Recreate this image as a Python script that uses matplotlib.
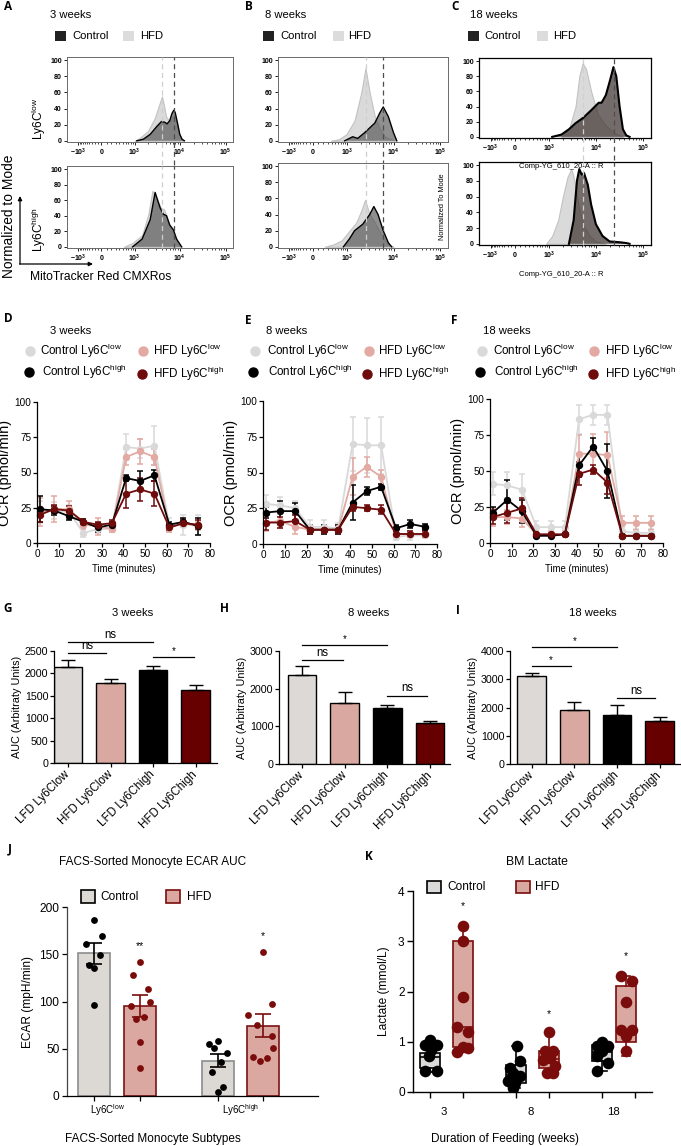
import numpy as np
import matplotlib
matplotlib.use("Agg")
import matplotlib.pyplot as plt
from matplotlib import font_manager
from matplotlib.patches import Rectangle

# ---------------- data ----------------
# flow histograms (A-C): MitoTracker intensity vs % of mode
A_LOW_CTRL_X = [1120, 1580, 2240, 3160, 3980, 4680, 5250, 6030, 6760, 7410, 7940, 8910, 10000, 11200, 12600]
A_LOW_CTRL_Y = [0, 2, 8, 18, 24, 23, 21, 25, 34, 38, 35, 22, 8, 2, 0]
A_LOW_HFD_X = [1000, 1260, 2000, 2820, 3550, 4070, 4470, 5010, 6030, 7080, 7590, 8320, 9330, 10700, 12000]
A_LOW_HFD_Y = [0, 3, 12, 28, 45, 55, 45, 30, 24, 30, 33, 25, 10, 2, 0]
A_HIGH_CTRL_X = [890, 1480, 2240, 2880, 3720, 4370, 5130, 6030, 7240, 8510, 10960]
A_HIGH_CTRL_Y = [0, 10, 35, 70, 50, 42, 40, 28, 22, 10, 0]
A_HIGH_HFD_X = [540, 890, 1480, 2040, 2510, 3090, 3890, 4570, 5620, 7240, 9120, 10960]
A_HIGH_HFD_Y = [0, 5, 15, 42, 72, 62, 50, 48, 32, 15, 3, 0]
A_MED = [4100, 7400]

B_LOW_CTRL_X = [870, 1320, 1700, 2400, 3980, 5130, 6030, 7760, 10000, 11750]
B_LOW_CTRL_Y = [0, 5, 3, 10, 22, 35, 42, 30, 10, 0]
B_LOW_HFD_X = [380, 630, 950, 1450, 2040, 2510, 3090, 3980, 5130, 6610, 8510, 10960]
B_LOW_HFD_Y = [0, 2, 8, 25, 60, 90, 60, 30, 15, 5, 2, 0]
B_HIGH_CTRL_X = [810, 1120, 1450, 2190, 3090, 3800, 4680, 6030, 7760, 9120]
B_HIGH_CTRL_Y = [0, 10, 20, 28, 40, 50, 40, 20, 5, 0]
B_HIGH_HFD_X = [230, 450, 740, 1120, 1580, 2040, 2450, 3090, 3980, 5500, 7760, 10000]
B_HIGH_HFD_Y = [0, 3, 8, 20, 30, 45, 58, 40, 30, 15, 3, 0]
B_MED = [2520, 5940]

C_LOW_CTRL_X = [1170, 1860, 2690, 3720, 5370, 7940, 11480, 13180, 16220, 19950, 23440, 26920, 31620, 37150, 43650, 51290]
C_LOW_CTRL_Y = [0, 3, 10, 18, 25, 35, 45, 45, 55, 75, 92, 80, 40, 10, 2, 0]
C_LOW_HFD_X = [1860, 2690, 3720, 4470, 5250, 6170, 7940, 10960, 16220, 24550, 37150]
C_LOW_HFD_Y = [0, 10, 40, 80, 97, 90, 60, 30, 15, 5, 0]
C_HIGH_CTRL_X = [2690, 3390, 3980, 4470, 5010, 5620, 6760, 7940, 10000, 13800, 19500, 31620, 43650, 51290]
C_HIGH_CTRL_Y = [0, 30, 80, 95, 88, 90, 75, 50, 25, 10, 3, 2, 1, 0]
C_HIGH_HFD_X = [850, 1170, 1580, 2000, 2510, 3020, 3390, 4270, 5370, 7410, 10000, 16220]
C_HIGH_HFD_Y = [0, 10, 30, 60, 85, 95, 85, 50, 25, 10, 3, 0]
C_MED = [5370, 23800]

FLOW_TICKS = [-1000, 0, 1000, 10000, 100000]
FLOW_TICKLABELS = [r'$\mathbf{-10^3}$', r'$\mathbf{0}$', r'$\mathbf{10^3}$', r'$\mathbf{10^4}$', r'$\mathbf{10^5}$']

# OCR (D-F): pmol/min at each measurement time
OCR_T = [1.3, 8, 14.8, 21.5, 28, 34.6, 41.2, 47.7, 54.3, 61.2, 67.7, 74.6]
D_CL = [22, 23, 22, 7, 10, 10, 68, 67, 69, 13, 13, 13]
D_CL_E = [8, 6, 5, 3, 3, 2, 9, 7, 14, 5, 7, 7]
D_HL = [22, 24, 24, 13, 12, 10, 61, 65, 61, 11, 14, 12]
D_HL_E = [10, 9, 6, 3, 6, 2, 6, 9, 6, 3, 3, 3]
D_CH = [24, 23, 19, 15, 11, 13, 46, 44, 48, 13, 15, 12]
D_CH_E = [9, 3, 3, 2, 3, 2, 2, 7, 4, 2, 3, 6]
D_HH = [20, 24, 23, 15, 13, 14, 35, 38, 35, 11, 14, 13]
D_HH_E = [5, 3, 3, 2, 2, 2, 10, 8, 9, 2, 2, 3]

E_CL = [28, 27, 25, 12, 12, 11, 70, 69, 69, 5, 6, 6]
E_CL_E = [6, 6, 5, 5, 5, 4, 19, 19, 20, 2, 3, 2]
E_HL = [15, 16, 12, 10, 10, 10, 47, 54, 47, 7, 7, 7]
E_HL_E = [6, 5, 5, 3, 3, 3, 13, 7, 5, 2, 2, 2]
E_CH = [22, 23, 23, 10, 10, 10, 29, 37, 40, 11, 14, 12]
E_CH_E = [4, 7, 6, 3, 3, 3, 12, 3, 2, 2, 3, 2]
E_HH = [15, 15, 16, 10, 10, 10, 26, 25, 24, 7, 7, 7]
E_HH_E = [5, 4, 4, 3, 2, 2, 3, 2, 3, 2, 2, 2]

F_CL = [41, 40, 37, 11, 11, 11, 86, 89, 89, 8, 7, 7]
F_CL_E = [8, 9, 11, 4, 4, 4, 10, 7, 7, 3, 3, 3]
F_HL = [18, 18, 17, 6, 6, 6, 62, 62, 61, 14, 14, 14]
F_HL_E = [6, 5, 6, 2, 2, 2, 13, 14, 16, 5, 5, 5]
F_CH = [21, 30, 22, 5, 5, 6, 54, 67, 50, 5, 5, 5]
F_CH_E = [4, 14, 8, 1, 1, 1, 8, 6, 19, 1, 1, 1]
F_HH = [18, 21, 24, 6, 6, 6, 48, 51, 42, 5, 5, 5]
F_HH_E = [5, 7, 7, 1, 1, 1, 8, 3, 8, 1, 1, 1]

# AUC (G-I)
AUC_LABELS = ['LFD Ly6Clow', 'HFD Ly6Clow', 'LFD Ly6Chigh', 'HFD Ly6Chigh']
G_AUC = [2150, 1790, 2077, 1632]
G_SEM = [150, 80, 82, 104]
G_SIG = [(0, 2, 2708, 'ns'), (0, 0.9, 2448, 'ns'), (2, 2.95, 2359, '*')]
H_AUC = [2374, 1624, 1500, 1077]
H_SEM = [220, 300, 62, 53]
H_SIG = [(0, 2, 3160, '*'), (0, 0.95, 2762, 'ns'), (2, 2.93, 1818, 'ns')]
I_AUC = [3118, 1918, 1729, 1529]
I_SEM = [117, 282, 353, 118]
I_SIG = [(0, 2, 4141, '*'), (0, 0.91, 3459, '*'), (2, 2.9, 2329, 'ns')]

# ECAR (J)
J_MEAN = [151, 95, 37.5, 74.6]
J_SEM = [11, 11.5, 7, 12.4]
J_PTS = [[186, 169, 161, 149, 139, 135, 96.5],
         [142, 128, 113, 100, 95, 82, 84, 57, 30],
         [55, 58, 51, 46, 36, 25, 10, 4.6],
         [152, 97, 85.5, 75, 63, 50.5, 41.7, 37.5, 40.6]]
J_JIT = [[0, 0.17, -0.17, 0.12, -0.12, 0, 0],
         [0, -0.16, 0.18, 0.22, -0.2, -0.09, 0.09, 0, 0],
         [-0.2, 0, -0.09, 0.21, 0.07, -0.13, 0.12, 0],
         [0, 0.18, -0.33, -0.14, 0.18, 0.22, -0.22, -0.07, 0.07]]
J_STARS = ['', '**', '', '*']
J_STAR_Y = [0, 153, 0, 164]

# BM lactate (K): (whislo, q1, med, q3, whishi) and points
K_BOX = [(0.4, 0.48, 0.7, 0.78, 1.0), (0.8, 0.9, 1.3, 3.0, 3.3),
         (0.08, 0.18, 0.33, 0.54, 0.91), (0.38, 0.48, 0.65, 0.81, 1.2),
         (0.41, 0.61, 0.8, 0.93, 1.0), (0.72, 1.0, 1.2, 2.11, 2.3)]
K_PTS = [[1.04, 0.94, 0.94, 0.84, 0.71, 0.41, 0.41],
         [3.3, 3.0, 1.9, 1.3, 1.2, 0.8, 0.88, 0.9],
         [0.91, 0.61, 0.48, 0.38, 0.31, 0.21, 0.18, 0.08],
         [1.2, 0.81, 0.81, 0.68, 0.64, 0.51, 0.38, 0.38],
         [1.0, 0.91, 0.91, 0.81, 0.71, 0.58, 0.41],
         [2.3, 2.2, 1.8, 1.24, 1.24, 1.12, 0.81]]
K_JIT = [[0, -0.15, 0.2, 0.02, -0.02, -0.15, 0.2],
         [0, 0, 0, -0.18, 0.15, -0.18, 0.15, 0],
         [0.02, 0.12, -0.18, -0.08, 0.12, -0.23, -0.03, -0.08],
         [0, -0.12, 0.13, 0.03, -0.17, 0.18, -0.07, 0.13],
         [0, -0.17, 0.18, 0, -0.17, 0.18, -0.17],
         [-0.14, 0.18, 0, -0.14, 0.18, 0, 0]]
K_STARS = ['', '*', '', '*', '', '*']
K_STAR_Y = [0, 3.6, 0, 1.45, 0, 2.6]
K_WEEKS = ['3', '8', '18']

# ---------------- styling ----------------
names = {f.name for f in font_manager.fontManager.ttflist}
HAS_NARROW = 'Liberation Sans Narrow' in names
NARROW = 'Liberation Sans Narrow' if HAS_NARROW else 'Liberation Sans'
plt.rcParams['font.family'] = ['Liberation Sans', 'DejaVu Sans']
plt.rcParams['mathtext.fontset'] = 'custom'
plt.rcParams['mathtext.rm'] = 'Liberation Sans'
plt.rcParams['mathtext.it'] = 'Liberation Sans:italic'
plt.rcParams['mathtext.bf'] = 'Liberation Sans:bold'

C_CL, C_HL, C_CH, C_HH = '#d9d9d9', '#e2aaa2', 'black', '#6e0b0b'
AUC_COLORS = ['#dcd9d6', '#d9a9a1', 'black', '#660000']
RED = '#7a0c0c'

W, H = 681, 1146
fig = plt.figure(figsize=(W / 100, H / 100), dpi=100)


def ax_at(l, t, r, b):
    return fig.add_axes([l / W, 1 - b / H, (r - l) / W, (b - t) / H])


# flow cytometry biexponential-like axis
C0, NEG = 390.0, 0.7


def fwd(x):
    x = np.asarray(x, float)
    y = np.arcsinh(x / C0) / np.log(10)
    return np.where(x < 0, y * NEG, y)


def inv(y):
    y = np.asarray(y, float)
    y = np.where(y < 0, y / NEG, y)
    return C0 * np.sinh(y * np.log(10))


minor_flow = ([-v for v in range(100, 1000, 100)] + list(range(100, 1000, 100)) +
              list(range(2000, 10000, 1000)) + list(range(20000, 100000, 10000)))


def flow(l, t, r, b, hx, hy, cx, cy, med, dark, alpha, heavy, ext):
    ax = ax_at(l, t, r, b)
    ax.set_xscale('function', functions=(fwd, inv))
    ax.fill_between(hx, hy, 0, facecolor='#dadada', edgecolor='#c2c2c2', lw=0.8, zorder=1)
    ax.fill_between(cx, cy, 0, facecolor=dark, alpha=alpha, edgecolor='none', zorder=2)
    ax.plot(cx, cy, color='black', lw=1.5 if heavy else 1.0, zorder=3)
    ax.plot([med[0]] * 2, [ext, 104], color='#cfcfcf', ls=(0, (4, 3)), lw=0.9, zorder=4, clip_on=False)
    ax.plot([med[1]] * 2, [ext, 104], color='#4d4d4d', ls=(0, (4, 3)), lw=0.9, zorder=4, clip_on=False)
    ax.set_xlim(-2300, 145000)
    ax.set_ylim(-1.5, 104)
    ax.set_xticks(FLOW_TICKS)
    ax.set_xticklabels(FLOW_TICKLABELS)
    ax.set_xticks(minor_flow, minor=True)
    ax.set_yticks(range(0, 101, 20))
    ax.set_yticklabels([str(v) for v in range(0, 101, 20)], fontweight='bold')
    ax.tick_params(labelsize=5, length=2.2, width=0.6, pad=1.5)
    ax.tick_params(which='minor', length=1.3, width=0.5)
    ec = 'black' if heavy else '#6a6a6a'
    for s in ax.spines.values():
        s.set_color(ec)
        s.set_linewidth(0.9 if heavy else 0.7)
    return ax


GREY_DARK, GREY_A = '#4a4a4a', 0.62
BROWN_DARK, BROWN_A = '#3e3430', 0.72
flow(67, 57, 233, 142, A_LOW_HFD_X, A_LOW_HFD_Y, A_LOW_CTRL_X, A_LOW_CTRL_Y, A_MED, GREY_DARK, GREY_A, False, -30)
flow(67, 166, 233, 248, A_HIGH_HFD_X, A_HIGH_HFD_Y, A_HIGH_CTRL_X, A_HIGH_CTRL_Y, A_MED, GREY_DARK, GREY_A, False, -1.5)
flow(278, 57, 448, 142, B_LOW_HFD_X, B_LOW_HFD_Y, B_LOW_CTRL_X, B_LOW_CTRL_Y, B_MED, GREY_DARK, GREY_A, False, -30)
flow(278, 163, 448, 248, B_HIGH_HFD_X, B_HIGH_HFD_Y, B_HIGH_CTRL_X, B_HIGH_CTRL_Y, B_MED, GREY_DARK, GREY_A, False, -1.5)
flow(479, 58, 651, 138, C_LOW_HFD_X, C_LOW_HFD_Y, C_LOW_CTRL_X, C_LOW_CTRL_Y, C_MED, BROWN_DARK, BROWN_A, True, -30)
flow(479, 162, 651, 245, C_HIGH_HFD_X, C_HIGH_HFD_Y, C_HIGH_CTRL_X, C_HIGH_CTRL_Y, C_MED, BROWN_DARK, BROWN_A, True, -1.5)

OCR_TICK_FS = 8.6 if HAS_NARROW else 7.2
OCR_XLAB_FS = 8.2 if HAS_NARROW else 6.9


def ocr(l, t, r, b, series):
    ax = ax_at(l, t, r, b)
    for vals, errs, col in series:
        ax.errorbar(OCR_T, vals, yerr=errs, color=col, ecolor=col, marker='o', ms=4.3, lw=1.3,
                    elinewidth=1.1, capsize=2.5, capthick=1.1, clip_on=False)
    ax.set_xlim(0, 80)
    ax.set_ylim(0, 100)
    ax.set_xticks(range(0, 81, 10))
    ax.set_yticks([0, 25, 50, 75, 100])
    for s in ['top', 'right']:
        ax.spines[s].set_visible(False)
    for s in ['left', 'bottom']:
        ax.spines[s].set_linewidth(0.9)
    ax.tick_params(length=3, width=0.9, labelsize=OCR_TICK_FS, pad=1)
    for lab in ax.get_xticklabels() + ax.get_yticklabels():
        lab.set_family(NARROW)
    ax.set_ylabel('OCR (pmol/min)', fontsize=10.5, labelpad=2)
    ax.set_xlabel('Time (minutes)', fontsize=OCR_XLAB_FS, family=NARROW, labelpad=4)
    return ax


ocr(37, 402, 210, 543, [(D_CL, D_CL_E, C_CL), (D_HL, D_HL_E, C_HL), (D_CH, D_CH_E, C_CH), (D_HH, D_HH_E, C_HH)])
ocr(263, 401, 437, 544, [(E_CL, E_CL_E, C_CL), (E_HL, E_HL_E, C_HL), (E_CH, E_CH_E, C_CH), (E_HH, E_HH_E, C_HH)])
ocr(490, 399, 663, 543, [(F_CL, F_CL_E, C_CL), (F_HL, F_HL_E, C_HL), (F_CH, F_CH_E, C_CH), (F_HH, F_HH_E, C_HH)])


def auc(l, t, r, b, vals, sem, ymax, nticks, xlim, sigs):
    ax = ax_at(l, t, r, b)
    x = np.arange(len(vals))
    ax.bar(x, vals, width=0.67, color=AUC_COLORS, edgecolor='black', lw=1.0, zorder=2)
    ax.errorbar(x, vals, yerr=[np.zeros(len(vals)), sem], fmt='none', ecolor='black',
                elinewidth=1.0, capsize=5, capthick=1.0, zorder=3)
    for x1, x2, y, s in sigs:
        ax.plot([x1, x2], [y, y], color='black', lw=0.9, clip_on=False)
        ax.annotate(s, ((x1 + x2) / 2, y), xytext=(0, 0.8), textcoords='offset points',
                    ha='center', va='bottom', fontsize=8.3 if s == 'ns' else 7, annotation_clip=False)
    ax.set_xlim(*xlim)
    ax.set_ylim(0, ymax)
    ax.set_yticks(np.linspace(0, ymax, nticks))
    ax.set_xticks(x)
    ax.set_xticklabels(AUC_LABELS, rotation=45, ha='right', va='center', rotation_mode='anchor', fontsize=8.3)
    for s in ['top', 'right']:
        ax.spines[s].set_visible(False)
    for s in ['left', 'bottom']:
        ax.spines[s].set_linewidth(0.9)
    ax.tick_params(axis='y', length=3, width=0.9, labelsize=7.7, pad=1)
    ax.tick_params(axis='x', length=3, width=0.9, pad=4)
    ax.set_ylabel('AUC (Arbitraty Units)', fontsize=7.8, labelpad=2)
    return ax


auc(54, 651, 217, 763, G_AUC, G_SEM, 2500, 6, (-0.33, 3.5), G_SIG)
auc(279, 651, 450, 764, H_AUC, H_SEM, 3000, 4, (-0.54, 3.47), H_SIG)
auc(510, 651, 681, 764, I_AUC, I_SEM, 4000, 5, (-0.51, 3.5), I_SIG)

# ---- J ----
axj = ax_at(67, 907, 318, 1096)
jx = [0, 1, 2.69, 3.68]
j_face = ['#dcd8d4', '#daa8a0', '#dcd8d4', '#daa8a0']
j_edge = ['#8c8c8c', '#7a1414', '#8c8c8c', '#7a1414']
j_dot = ['black', RED, 'black', RED]
axj.bar(jx, J_MEAN, width=0.69, color=j_face, edgecolor=j_edge, lw=1.2, zorder=1)
for i in range(4):
    axj.errorbar(jx[i], J_MEAN[i], yerr=J_SEM[i], fmt='none', ecolor='black' if i % 2 == 0 else RED,
                 elinewidth=1.2, capsize=6, capthick=1.2, zorder=3)
    axj.scatter(np.array(J_JIT[i]) + jx[i], J_PTS[i], s=24, color=j_dot[i], zorder=4, lw=0)
    if J_STARS[i]:
        axj.text(jx[i], J_STAR_Y[i], J_STARS[i], ha='center', va='bottom', fontsize=7.5)
axj.set_xlim(-0.59, 4.87)
axj.set_ylim(0, 200)
axj.set_yticks(range(0, 201, 50))
axj.set_xticks(jx)
axj.set_xticklabels([])
for s in ['top', 'right']:
    axj.spines[s].set_visible(False)
axj.spines['left'].set_color('#444444')
for s in ['left', 'bottom']:
    axj.spines[s].set_linewidth(0.9)
axj.tick_params(length=3.5, width=0.9, labelsize=8.6, pad=2)
axj.set_ylabel('ECAR (mpH/min)', fontsize=8.6, labelpad=4)
for lab, xm in zip(['Ly6C$^{\\rm low}$', 'Ly6C$^{\\rm high}$'], [(jx[0] + jx[1]) / 2 - 0.2, (jx[2] + jx[3]) / 2]):
    axj.text(xm, -7, lab, ha='center', va='top', fontsize=7, clip_on=False)

# ---- K ----
axk = ax_at(413, 891, 652, 1092)
kx = [0, 1, 2.58, 3.57, 5.17, 5.87]
k_ticks = [0, 1, 2.58, 3.57, 5.17, 6.15]
stats = []
for w in K_BOX:
    stats.append(dict(whislo=w[0], q1=w[1], med=w[2], q3=w[3], whishi=w[4], fliers=[]))
bp = axk.bxp(stats, positions=kx, widths=0.6, patch_artist=True, capwidths=0.25,
             showfliers=False, manage_ticks=False)
for i, patch in enumerate(bp['boxes']):
    ctrl = i % 2 == 0
    col = 'black' if ctrl else RED
    patch.set_facecolor('#dcdad8' if ctrl else '#d9a8a0')
    patch.set_edgecolor(col)
    patch.set_linewidth(1.2)
    bp['medians'][i].set_color(col)
    bp['medians'][i].set_linewidth(1.2)
    for j in (2 * i, 2 * i + 1):
        bp['whiskers'][j].set_color(col)
        bp['whiskers'][j].set_linewidth(1.2)
        bp['caps'][j].set_color(col)
        bp['caps'][j].set_linewidth(1.2)
    axk.scatter(np.array(K_JIT[i]) + kx[i], K_PTS[i], s=70, color=col, zorder=4, lw=0)
    if K_STARS[i]:
        axk.text(kx[i], K_STAR_Y[i], K_STARS[i], ha='center', va='bottom', fontsize=7.5)
axk.set_xlim(-0.51, 6.66)
axk.set_ylim(0, 4)
axk.set_yticks(range(0, 5))
axk.set_xticks(k_ticks)
axk.set_xticklabels([])
for s in ['top', 'right']:
    axk.spines[s].set_visible(False)
for s in ['left', 'bottom']:
    axk.spines[s].set_linewidth(1.0)
axk.tick_params(length=4, width=1.0, labelsize=8.6, pad=2)
axk.set_ylabel('Lactate (mmol/L)', fontsize=8.6, labelpad=6)
for lab, xm in zip(K_WEEKS, [0.42, 3.03, 5.5]):
    axk.text(xm, -0.3, lab, ha='center', va='top', fontsize=8.2, clip_on=False)

# ---------------- overlay: titles, legends, letters ----------------
ov = fig.add_axes([0, 0, 1, 1], zorder=10)
ov.set_xlim(0, W)
ov.set_ylim(H, 0)
ov.axis('off')
ov.patch.set_visible(False)


def letter(x, y, s):
    ov.text(x, y, s, fontsize=8.5, fontweight='bold', family=['Open Sans', 'DejaVu Sans'], ha='left', va='center')


for x, y, s in [(4, 7, 'A'), (245, 7, 'B'), (451, 7, 'C'), (4, 318, 'D'), (245, 320, 'E'), (451, 320, 'F'),
                (3, 609, 'G'), (220, 609, 'H'), (456, 610, 'I'), (8, 849, 'J'), (365, 856, 'K')]:
    letter(x, y, s)

# flow titles and legends
for x0, title in [(50, '3 weeks'), (265, '8 weeks'), (470, '18 weeks')]:
    ov.text(x0, 15, title, fontsize=8.1, va='center', ha='left')
for sq1, t1, sq2, t2 in [(55, 72, 123, 140), (263, 280, 333, 348), (468, 484, 537, 553)]:
    ov.add_patch(Rectangle((sq1, 31), 11, 10, facecolor='#222222', edgecolor='none'))
    ov.text(t1, 36, 'Control', fontsize=8.1, va='center', ha='left')
    ov.add_patch(Rectangle((sq2, 31), 11, 10, facecolor='#dcdcdc', edgecolor='none'))
    ov.text(t2, 36, 'HFD', fontsize=8.1, va='center', ha='left')

ov.text(39, 119, 'Ly6C$^{\\rm low}$', fontsize=8.6, rotation=90, ha='center', va='center')
ov.text(39, 229, 'Ly6C$^{\\rm high}$', fontsize=8.6, rotation=90, ha='center', va='center')
ov.text(9, 216, 'Normalized to Mode', fontsize=9.9, rotation=90, ha='center', va='center')
ov.text(30, 277, 'MitoTracker Red CMXRos', fontsize=8.7, ha='left', va='center')
ov.annotate('', xy=(20, 196), xytext=(20, 264),
            arrowprops=dict(arrowstyle='-|>', color='black', lw=0.9, mutation_scale=6, shrinkA=0, shrinkB=0))
ov.annotate('', xy=(93, 264), xytext=(19.5, 264),
            arrowprops=dict(arrowstyle='-|>', color='black', lw=0.9, mutation_scale=6, shrinkA=0, shrinkB=0))
ov.text(443, 207, 'Normalized To Mode', fontsize=5.3, rotation=90, ha='center', va='center')
ov.text(561, 167, 'Comp-YG_610_20-A :: R', fontsize=5.5, ha='center', va='center')
ov.text(561, 274, 'Comp-YG_610_20-A :: R', fontsize=5.5, ha='center', va='center')

# OCR titles and legends
for x0, title in [(50, '3 weeks'), (266, '8 weeks'), (483, '18 weeks')]:
    ov.text(x0, 331, title, fontsize=8.1, va='center', ha='left')
for m1, t1, m2, t2, m3, t3, m4, t4 in [(30, 40, 143, 153, 29, 42, 142, 153),
                                       (255, 267, 369, 378, 253, 268, 367, 378),
                                       (482, 493, 594, 605, 480, 494, 593, 605)]:
    ov.plot(m1, 351, 'o', color=C_CL, ms=6.5)
    ov.text(t1, 351, 'Control Ly6C$^{\\rm low}$', fontsize=8.4, va='center')
    ov.plot(m2, 351, 'o', color=C_HL, ms=6.5)
    ov.text(t2, 351, 'HFD Ly6C$^{\\rm low}$', fontsize=8.4, va='center')
    ov.plot(m3, 372, 'o', color=C_CH, ms=6.5)
    ov.text(t3, 372, 'Control Ly6C$^{\\rm high}$', fontsize=8.4, va='center')
    ov.plot(m4, 374, 'o', color=C_HH, ms=6.5)
    ov.text(t4, 374, 'HFD Ly6C$^{\\rm high}$', fontsize=8.4, va='center')

# AUC titles
for xc, title in [(133, '3 weeks'), (369, '8 weeks'), (593, '18 weeks')]:
    ov.text(xc, 613, title, fontsize=8.1, ha='center', va='center')

# J text
ov.text(153, 862, 'FACS-Sorted Monocyte ECAR AUC', fontsize=8.5, ha='center', va='center')
ov.add_patch(Rectangle((81, 890), 14, 13, facecolor='#dcd8d4', edgecolor='black', lw=1.2))
ov.text(100, 897, 'Control', fontsize=8.6, va='center')
ov.add_patch(Rectangle((166, 890), 14, 13, facecolor='#daa8a0', edgecolor=RED, lw=1.2))
ov.text(187, 897, 'HFD', fontsize=8.6, va='center')
ov.text(153, 1139, 'FACS-Sorted Monocyte Subtypes', fontsize=8.5, ha='center', va='center')

# K text
ov.text(537, 862, 'BM Lactate', fontsize=8.8, ha='center', va='center')
ov.add_patch(Rectangle((427, 881), 14, 12, facecolor='#dcdad8', edgecolor='black', lw=1.2))
ov.text(447, 887, 'Control', fontsize=8.6, va='center')
ov.add_patch(Rectangle((516, 881), 14, 12, facecolor='#d9a8a0', edgecolor=RED, lw=1.2))
ov.text(535, 887, 'HFD', fontsize=8.6, va='center')
ov.text(505, 1139, 'Duration of Feeding (weeks)', fontsize=8.5, ha='center', va='center')

fig.savefig('out.png', dpi=100)
